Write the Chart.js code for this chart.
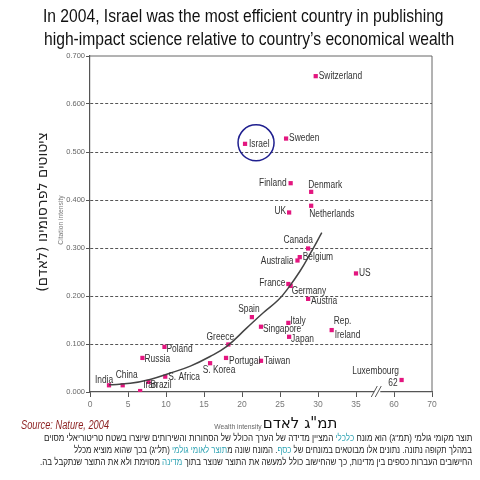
<!DOCTYPE html>
<html>
<head>
<meta charset="utf-8">
<script src="https://cdn.jsdelivr.net/npm/chart.js@4.4.1/dist/chart.umd.min.js"></script>
<style>
  html, body { margin: 0; padding: 0; background: #fff; }
  #wrap { position: relative; width: 480px; height: 480px; overflow: hidden; }
  #chart { position: absolute; left: 0; top: 0; }
  .fit { display: inline-block; white-space: nowrap; }
  #title {
    position: absolute; left: 0; top: 4px; width: 480px; text-align: center;
    font-family: "Liberation Sans", Arial, sans-serif;
    font-size: 19px; line-height: 23px; color: #111;
  }
  #title .fit { transform-origin: 50% 50%; }
  #source {
    position: absolute; left: 21px; top: 418px;
    font-family: "Liberation Sans", Arial, sans-serif;
    font-style: italic; font-size: 12px; color: #8b1e1e;
  }
  #source .fit { transform-origin: 0 50%; }
  #note {
    position: absolute; right: 8px; top: 432px; width: 460px;
    direction: rtl; text-align: right;
    font-family: "Liberation Sans", "DejaVu Sans", sans-serif;
    font-size: 9.5px; line-height: 12px; color: #222;
  }
  #note .fit { transform-origin: 100% 50%; }
  #note em { font-style: normal; color: #2fa3b3; }
</style>
</head>
<body>
<div id="wrap">
  <canvas id="chart" width="480" height="480"></canvas>
  <div id="title">
    <div><span class="fit" data-w="401">In 2004, Israel was the most efficient country in publishing</span></div>
    <div><span class="fit" data-w="410">high-impact science relative to country’s economical wealth</span></div>
  </div>
  <div id="source"><span class="fit" data-w="88">Source: Nature, 2004</span></div>
  <div id="note">
    <div><span class="fit" data-w="428">תוצר מקומי גולמי (תמ"ג) הוא מונח <em>כלכלי</em> המציין מדידה של הערך הכולל של הסחורות והשירותים שיוצרו בשטח טריטוריאלי מסוים</span></div>
    <div><span class="fit" data-w="398">במהלך תקופה נתונה. נתונים אלו מבוטאים במונחים של <em>כסף</em>. המונח שונה מ<em>תוצר לאומי גולמי</em> (תל"ג) בכך שהוא מוציא מכלל</span></div>
    <div><span class="fit" data-w="432">החישובים העברות כספים בין מדינות, כך שהחישוב כולל למעשה את התוצר שנוצר בתוך <em>מדינה</em> מסוימת ולא את התוצר שנתקבל בה.</span></div>
  </div>
</div>
<script>
// values
const countries = ['Switzerland', 'Israel', 'Sweden', 'Finland', 'Denmark', 'UK', 'Netherlands',
  'Canada', 'Australia', 'Belgium', 'US', 'France', 'Germany', 'Austria', 'Spain', 'Italy',
  'Singapore', 'Japan', 'Rep. Ireland', 'Greece', 'Portugal', 'Taiwan', 'S. Korea', 'Luxembourg',
  'Poland', 'Russia', 'S. Africa', 'India', 'China', 'Iran', 'Brazil'];
const wealth = [29.7, 20.4, 25.8, 26.4, 29.1, 26.2, 29.1,
  28.7, 27.3, 27.6, 35.0, 26.1, 26.4, 28.7, 21.3, 26.1,
  22.5, 26.2, 31.8, 18.2, 17.9, 22.5, 15.8, 62,
  9.8, 6.9, 9.9, 2.5, 4.3, 6.6, 7.7];
const citations = [0.658, 0.517, 0.528, 0.435, 0.417, 0.374, 0.388,
  0.299, 0.274, 0.281, 0.247, 0.225, 0.221, 0.194, 0.156, 0.144,
  0.136, 0.115, 0.129, 0.099, 0.071, 0.065, 0.060, 0.025,
  0.094, 0.071, 0.032, 0.014, 0.014, 0.002, 0.021];

// fitted trend curve as drawn in the figure
const trendWealth = [2.5, 5.3, 7.9, 10.5, 13.2, 15.8, 18.0, 20.6, 22.8, 24.8, 26.1, 27.6, 28.9, 30.5];
const trendCitation = [0.015, 0.018, 0.026, 0.039, 0.054, 0.074, 0.095, 0.133, 0.165, 0.192, 0.217, 0.251, 0.286, 0.332];

const xTickLabels = [0, 5, 10, 15, 20, 25, 30, 35, 60, 70];
const yTickStep = 0.1;
const yMax = 0.7;

// the x axis is broken between 40 and 60, the part after the break is squeezed
const breakStart = 40, breakEnd = 60, afterBreak = 0.5;
function toAxis(w) {
  return w <= breakStart ? w : breakStart + (w - breakEnd) * afterBreak;
}

// squeeze html text lines to the width they have in the figure (no narrow font here)
document.querySelectorAll('.fit').forEach(el => {
  el.style.transform = 'scaleX(' + (+el.dataset.w / el.offsetWidth) + ')';
});

const sans = '"Liberation Sans", Arial, sans-serif';
const squeeze = 0.84;

// label offsets in px from the marker: [dx, dy, align, text]
const labelPlace = {
  'Switzerland': [[3, 0, 'left']],
  'Israel': [[4, 0, 'left']],
  'Sweden': [[3, 0, 'left']],
  'Finland': [[-4, 0, 'right']],
  'Denmark': [[-3, -7, 'left']],
  'UK': [[-3, -1, 'right']],
  'Netherlands': [[-2, 8, 'left']],
  'Canada': [[-10, -8, 'center']],
  'Australia': [[-4, 1, 'right']],
  'Belgium': [[3, 0, 'left']],
  'US': [[3, 0, 'left']],
  'France': [[-3, -1, 'right']],
  'Germany': [[1, 5, 'left']],
  'Austria': [[3, 2, 'left']],
  'Spain': [[-3, -8, 'center']],
  'Italy': [[2, -2, 'left']],
  'Singapore': [[2, 3, 'left']],
  'Japan': [[2, 2, 'left']],
  'Rep. Ireland': [[2, -9, 'left', 'Rep.'], [3, 5, 'left', 'Ireland']],
  'Greece': [[-8, -7, 'center']],
  'Portugal': [[3, 3, 'left']],
  'Taiwan': [[3, 0, 'left']],
  'S. Korea': [[9, 7, 'center']],
  'Luxembourg': [[-26, -9, 'center'], [-4, 3, 'right', 'value']],
  'Poland': [[2, 2, 'left']],
  'Russia': [[2, 1, 'left']],
  'S. Africa': [[3, 1, 'left']],
  'India': [[-5, -5, 'center']],
  'China': [[4, -10, 'center']],
  'Iran': [[3, -6, 'left']],
  'Brazil': [[2, 3, 'left']]
};

function narrowText(ctx, txt, x, y, align) {
  ctx.save();
  ctx.translate(x, y);
  ctx.scale(squeeze, 1);
  ctx.textAlign = align;
  ctx.fillText(txt, 0, 0);
  ctx.restore();
}

const extras = {
  id: 'extras',
  afterDatasetsDraw(chart) {
    const ctx = chart.ctx;
    const area = chart.chartArea;
    const xs = chart.scales.x;

    // frame on top and right
    ctx.save();
    ctx.strokeStyle = '#666';
    ctx.lineWidth = 1;
    ctx.beginPath();
    ctx.moveTo(area.left, area.top);
    ctx.lineTo(area.right, area.top);
    ctx.lineTo(area.right, area.bottom);
    ctx.stroke();

    // axis break mark
    const bx = xs.getPixelForValue(37.8);
    ctx.fillStyle = '#fff';
    ctx.fillRect(bx - 3, area.bottom - 1.5, 6, 3);
    ctx.strokeStyle = '#555';
    ctx.beginPath();
    ctx.moveTo(bx - 6, area.bottom + 5); ctx.lineTo(bx, area.bottom - 6);
    ctx.moveTo(bx - 2, area.bottom + 5); ctx.lineTo(bx + 4, area.bottom - 6);
    ctx.stroke();

    // country labels
    const meta = chart.getDatasetMeta(1);
    ctx.font = '10px ' + sans;
    ctx.fillStyle = '#333';
    ctx.textBaseline = 'middle';
    meta.data.forEach((pt, i) => {
      const parts = labelPlace[countries[i]] || [[3, 0, 'left']];
      parts.forEach(p => {
        let txt = p[3] || countries[i];
        if (txt === 'value') txt = String(wealth[i]);
        narrowText(ctx, txt, pt.x + p[0], pt.y + p[1], p[2]);
      });
    });

    // circle round Israel
    const il = meta.data[countries.indexOf('Israel')];
    ctx.strokeStyle = '#1f1f8f';
    ctx.lineWidth = 1.5;
    ctx.beginPath();
    ctx.arc(il.x + 11, il.y - 1, 18, 0, Math.PI * 2);
    ctx.stroke();

    // axis titles
    ctx.fillStyle = '#777';
    ctx.font = '8px ' + sans;
    ctx.save();
    ctx.translate(61, 220);
    ctx.rotate(-Math.PI / 2);
    narrowText(ctx, 'Citation intensity', 0, 0, 'center');
    ctx.restore();

    ctx.save();
    ctx.fillStyle = '#222';
    ctx.font = '14px "DejaVu Sans", sans-serif';
    ctx.direction = 'rtl';
    ctx.textAlign = 'center';
    ctx.translate(43, 212);
    ctx.rotate(-Math.PI / 2);
    ctx.fillText('ציטוטים לפרסומינו (לאדם)', 0, 0);
    ctx.restore();

    ctx.fillStyle = '#666';
    ctx.font = '8px ' + sans;
    narrowText(ctx, 'Wealth intensity', 238, 427, 'center');
    ctx.fillStyle = '#111';
    ctx.font = '15px "DejaVu Sans", sans-serif';
    ctx.direction = 'rtl';
    ctx.textAlign = 'center';
    ctx.fillText('תמ"ג לאדם', 300, 424);
    ctx.restore();
  }
};

new Chart(document.getElementById('chart'), {
  data: {
    datasets: [
      {
        type: 'line',
        data: trendWealth.map((w, i) => ({ x: toAxis(w), y: trendCitation[i] })),
        borderColor: '#444',
        borderWidth: 1.5,
        pointRadius: 0,
        tension: 0.4,
        fill: false
      },
      {
        type: 'scatter',
        data: wealth.map((w, i) => ({ x: toAxis(w), y: citations[i] })),
        pointStyle: 'rect',
        pointRadius: 3,
        backgroundColor: '#e3167f',
        borderColor: '#e3167f',
        borderWidth: 0
      }
    ]
  },
  options: {
    responsive: false,
    animation: false,
    layout: { padding: { top: 56, right: 48, left: 0, bottom: 0 } },
    plugins: { legend: { display: false }, tooltip: { enabled: false } },
    scales: {
      x: {
        type: 'linear',
        min: 0,
        max: toAxis(xTickLabels[xTickLabels.length - 1]),
        afterBuildTicks: s => { s.ticks = xTickLabels.map(v => ({ value: toAxis(v) })); },
        afterFit: s => { s.height = 88; },
        ticks: {
          callback: (v, i) => xTickLabels[i],
          font: { family: sans, size: 8.5 },
          color: '#777',
          padding: 3,
          maxRotation: 0,
          autoSkip: false
        },
        grid: { drawOnChartArea: false, drawTicks: true, tickLength: 5, tickColor: '#555' },
        border: { color: '#555', width: 1.2 }
      },
      y: {
        min: 0,
        max: yMax,
        afterFit: s => { s.width = 90; },
        ticks: {
          stepSize: yTickStep,
          callback: v => v.toFixed(3),
          font: { family: sans, size: 7.5 },
          color: '#666',
          padding: 1
        },
        grid: {
          color: c => (c.tick && (c.tick.value === 0 || Math.abs(c.tick.value - yMax) < 1e-6)) ? 'rgba(0,0,0,0)' : '#555',
          tickColor: '#555',
          tickLength: 4,
          lineWidth: 1
        },
        border: { color: '#555', width: 1.2, dash: [3, 2] }
      }
    }
  },
  plugins: [extras]
});
</script>
</body>
</html>
